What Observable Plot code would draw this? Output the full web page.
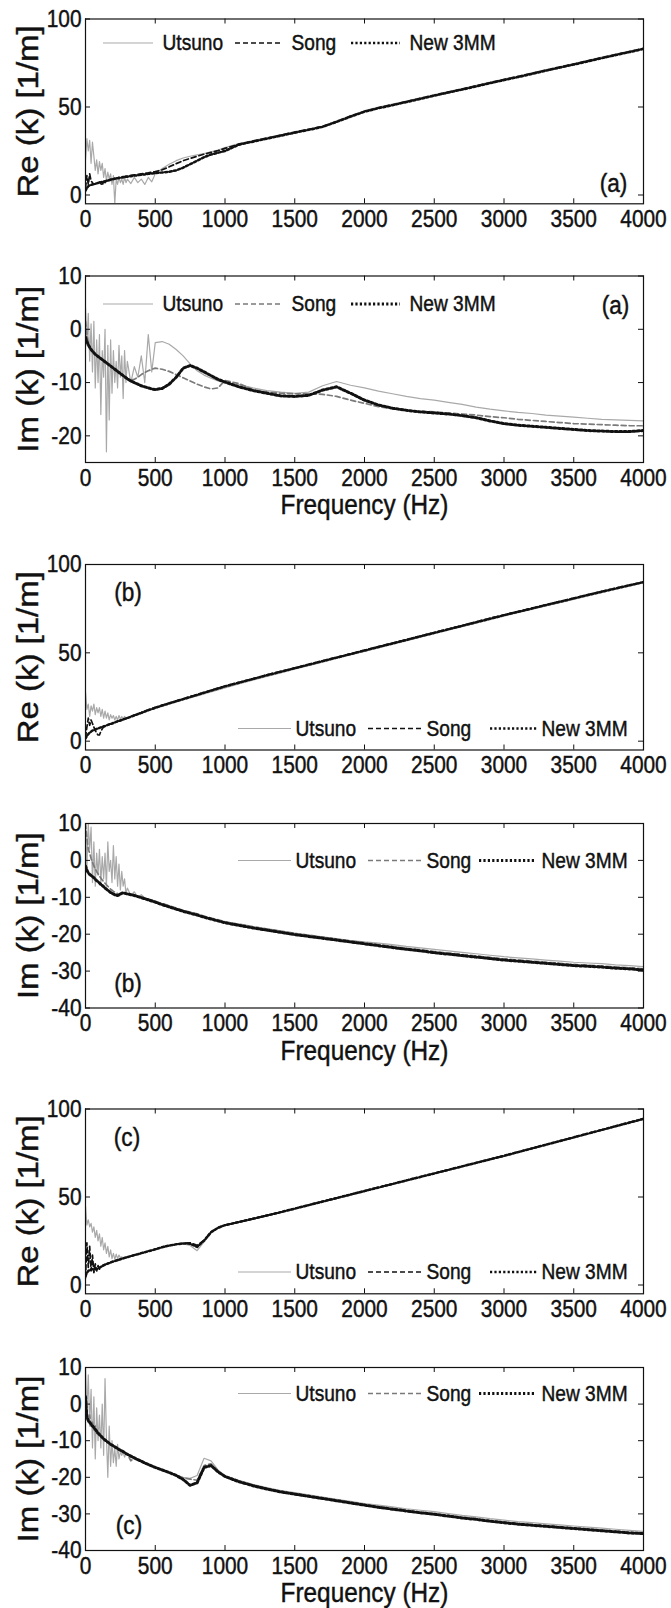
<!DOCTYPE html>
<html><head><meta charset="utf-8">
<script src="https://cdn.jsdelivr.net/npm/d3@7"></script>
<script src="https://cdn.jsdelivr.net/npm/@observablehq/plot@0.6"></script>
<style>
html,body{margin:0;padding:0;background:#fff}
#fig{width:671px;height:1608px;overflow:hidden}
#fig svg{display:block}
</style>
</head><body><div id="fig"></div>
<script>
// ---------- DATA ----------
const freq = [0,10,20,30,40,50,60,70,80,90,100,110,120,130,140,150,160,170,180,190,200,210,220,230,240,250,260,270,280,290,
  300,325,350,375,400,425,450,475,
  500,550,600,650,700,750,800,850,900,950,1000,
  1100,1200,1300,1400,1500,1600,1700,1800,1900,2000,2100,2200,2300,2400,2500,2600,2700,2800,2900,3000,3100,3200,3300,3400,3500,3600,3700,3800,3900,4000];
const xTicks = [0,500,1000,1500,2000,2500,3000,3500,4000];
const seriesNames = ["Utsuno","Song","New 3MM"];

// (a) Re
const reA_utsuno = [20,32,25,31,18,30,22,14,20,12,19,14,18,10,15,8,13,9,12,6,11,-5,9,6,10,7,9,6,10,7,
  9,6.5,10,7,9,6,10,7.5,
  12,15,17.5,19.5,21,22,22.8,23.6,24.5,25.5,27,
  29.2,30.9,32.6,34.2,36,37.5,39.2,42.1,45.2,47.9,49.9,51.6,53.4,55.2,57,58.8,60.5,62.3,64.1,65.9,67.6,69.4,71.2,73,74.7,76.5,78.3,80.1,81.8,83.5];
const reA_song = [4,11,6,12,8,7,6,6.5,7,6.8,7.4,6.5,5.5,7.8,7,8.4,8.2,8.6,9,9,9.3,9.5,9.6,9.8,10,10.1,10.2,10.4,10.5,10.7,
  10.8,11.1,11.4,11.7,12,12.3,12.6,13,
  13.3,14.3,16,17.8,19.5,20.8,22,23.2,24.2,25.2,26.5,
  28.9,30.6,32.3,34,35.7,37.3,39,41.8,44.8,47.6,49.6,51.3,53.1,54.9,56.7,58.5,60.2,62,63.8,65.6,67.3,69.1,70.9,72.7,74.4,76.2,78,79.8,81.5,83.3];
const reA_new3mm = [2.5,4,5,5.5,5.8,6,6.2,6.4,6.6,6.8,7,7.2,7.4,7.6,7.8,8,8.2,8.4,8.6,8.8,9,9.2,9.3,9.5,9.6,9.8,9.9,10,10.2,10.3,
  10.4,10.7,11,11.2,11.5,11.7,12,12.2,
  12.4,12.8,13.2,14,15.5,17.5,19.5,21.5,23,24,25,
  28.6,30.3,32,33.7,35.4,37,38.7,41.5,44.5,47.3,49.3,51,52.8,54.6,56.4,58.2,59.9,61.7,63.5,65.3,67,68.8,70.6,72.4,74.1,75.9,77.7,79.5,81.2,83];

// (a) Im
const imA_utsuno = [4,-3,3,-6,1,-8,1.5,-11,-2,-10,-1,-16,-4,-9,0,-23,-3,-17,-2,-12,-4,-10,-6,-11,-3,-9,-5,-13,-4,-10,
  -6,-10,-7,-9,-5,-10,-1,-8,
  -2.5,-2.3,-2.8,-3.8,-5,-6.5,-7.8,-8.6,-9.2,-9.7,-10,
  -10.4,-11,-11.5,-11.8,-12,-11.8,-10.6,-9.8,-10.5,-11,-11.6,-12.1,-12.6,-13,-13.3,-13.7,-14.1,-14.6,-15,-15.3,-15.6,-15.8,-16.1,-16.3,-16.5,-16.7,-16.9,-17,-17.1,-17.2];
const imA_song = [1.5,-1,-2.4,-3.2,-3.7,-4.1,-4.4,-4.7,-4.9,-5.1,-5.3,-5.5,-5.7,-5.9,-6.1,-6.3,-6.5,-6.7,-6.9,-7.1,-7.3,-7.5,-7.7,-7.9,-8.1,-8.3,-8.5,-8.7,-8.9,-9.1,
  -9.3,-9.5,-9.4,-9,-8.5,-8.1,-7.8,-7.5,
  -7.3,-7.5,-7.9,-8.5,-9.1,-9.7,-10.3,-10.8,-11.2,-11,-9.6,
  -10.2,-11.3,-11.8,-12,-12.1,-12.1,-12.2,-12.6,-13.3,-13.9,-14.5,-14.9,-15.2,-15.4,-15.5,-15.7,-15.9,-16.1,-16.4,-16.6,-16.9,-17.1,-17.3,-17.5,-17.7,-17.8,-17.9,-18,-18.1,-18.1];
const imA_new3mm = [-1.5,-2.3,-2.9,-3.4,-3.8,-4.1,-4.4,-4.7,-4.9,-5.1,-5.3,-5.5,-5.7,-5.9,-6.1,-6.3,-6.5,-6.7,-6.9,-7.1,-7.3,-7.5,-7.7,-7.9,-8.1,-8.3,-8.5,-8.7,-8.9,-9.1,
  -9.3,-9.7,-10,-10.3,-10.6,-10.8,-11,-11.2,
  -11.3,-11.1,-10.3,-9,-7.3,-6.8,-7.3,-8,-8.7,-9.4,-9.9,
  -10.8,-11.5,-12,-12.5,-12.6,-12.4,-11.4,-10.8,-12,-13.3,-14.2,-14.8,-15.2,-15.5,-15.7,-15.9,-16.2,-16.6,-17.2,-17.7,-18,-18.2,-18.4,-18.6,-18.8,-19,-19.1,-19.2,-19.2,-19];

// (b) Re
const reB_utsuno = [28,18,21,14,20,17,21,15,19,16,19,14,18,13,17,13,16,12,15,13,14.5,12,14,12,14.5,12.5,14,12.5,14,13,
  13.5,14,14.3,15,15.7,16.4,17.1,17.8,
  18.5,19.7,20.9,22.1,23.3,24.5,25.6,26.8,27.9,29,30.2,
  32.4,34.5,36.6,38.7,40.7,42.7,44.7,46.8,48.8,50.8,52.8,54.8,56.8,58.8,60.8,62.8,64.8,66.8,68.8,70.8,72.7,74.6,76.5,78.4,80.3,82.2,84.1,86,87.8,89.7];
const reB_song = [2,8,13,9,12,10,8,6,4.5,3.5,3.5,5.5,7,8,8.5,8.9,9.2,9.5,9.8,10,10.3,10.6,10.9,11.2,11.4,11.7,12,12.3,12.6,12.8,
  13.2,14,14.8,15.5,16.2,17,17.7,18.4,
  19.1,20.4,21.6,22.8,24,25.2,26.4,27.6,28.8,30,31.2,
  33.3,35.4,37.5,39.5,41.5,43.5,45.5,47.5,49.5,51.5,53.5,55.5,57.5,59.5,61.5,63.5,65.5,67.5,69.5,71.5,73.4,75.3,77.2,79.1,81,82.9,84.8,86.6,88.4,90.2];
const reB_new3mm = [1.5,3,4,4.8,5.4,6,6.3,6.6,6.9,7.2,7.5,7.8,8.1,8.4,8.6,8.9,9.2,9.5,9.8,10,10.3,10.6,10.9,11.2,11.4,11.7,12,12.3,12.6,12.8,
  13,13.8,14.6,15.3,16,16.8,17.5,18.2,
  18.9,20.2,21.4,22.6,23.8,25,26.2,27.4,28.6,29.8,31,
  33.1,35.2,37.3,39.3,41.3,43.3,45.3,47.3,49.3,51.3,53.3,55.3,57.3,59.3,61.3,63.3,65.3,67.3,69.3,71.3,73.2,75.1,77,78.9,80.8,82.7,84.6,86.4,88.2,90];

// (b) Im
const imB_utsuno = [10,-2,10,3,9,-6,5,-7,2,-4,3,-6,1,-5,2,-7,5,-3,0,-6,4,-5,1,-7,-1,-8,-3,-7,-5,-9,
  -7.5,-9.5,-8.5,-10,-9.3,-10.2,-10.4,-10.7,
  -11,-11.7,-12.3,-13,-13.6,-14.2,-14.8,-15.3,-15.8,-16.3,-16.8,
  -17.2,-17.9,-18.5,-19.1,-19.7,-20.2,-20.7,-21.2,-21.7,-22.1,-22.4,-22.8,-23.3,-23.7,-24.1,-24.5,-24.9,-25.3,-25.7,-26.1,-26.4,-26.7,-27,-27.3,-27.6,-27.8,-28,-28.3,-28.5,-28.8];
const imB_song = [10,6,3,2,0.5,-0.5,-1.5,-2.3,-3,-3.6,-4.2,-4.8,-5.3,-5.8,-6.2,-6.6,-7,-7.4,-7.8,-8.1,-8.4,-8.6,-8.8,-9,-9.1,-9.1,-9,-8.9,-8.9,-9,
  -9,-9.1,-9.3,-9.6,-9.9,-10.2,-10.5,-10.8,
  -11.1,-11.7,-12.3,-12.9,-13.5,-14,-14.5,-15.1,-15.6,-16.1,-16.6,
  -17.3,-18,-18.6,-19.2,-19.8,-20.3,-20.8,-21.3,-21.8,-22.3,-22.8,-23.3,-23.8,-24.2,-24.7,-25.1,-25.5,-25.9,-26.3,-26.7,-27,-27.3,-27.6,-27.9,-28.2,-28.4,-28.6,-28.9,-29.1,-29.4];
const imB_new3mm = [-1.5,-2.6,-3.4,-3.8,-4.1,-4.4,-4.7,-5.1,-5.5,-5.8,-6.1,-6.5,-6.8,-7.1,-7.5,-7.8,-8.1,-8.4,-8.7,-8.9,-9.1,-9.3,-9.4,-9.5,-9.4,-9.1,-8.9,-8.8,-8.9,-9,
  -9.1,-9.3,-9.5,-9.8,-10.1,-10.4,-10.7,-11,
  -11.3,-12,-12.6,-13.2,-13.8,-14.3,-14.8,-15.4,-15.9,-16.4,-16.9,
  -17.6,-18.3,-18.9,-19.5,-20.1,-20.6,-21.1,-21.6,-22.1,-22.6,-23.1,-23.6,-24.1,-24.5,-25,-25.4,-25.8,-26.2,-26.6,-27,-27.3,-27.6,-27.9,-28.2,-28.5,-28.7,-28.9,-29.2,-29.4,-29.7];

// (c) Re
const reC_utsuno = [45,34,37,33,35,30,33,27,31,25,29,22,27,20,24,18,22,16,20,15,18,14.5,17.5,15,17,15.5,16,15.3,15.8,15.6,
  15.8,16.4,17,17.5,18.1,18.6,19.2,19.7,
  20.2,21.3,22.3,23,23.4,22.5,19.5,24.5,29.5,32.3,33.8,
  35.5,37.3,39.2,41.1,43.1,45.1,47.1,49.1,51.1,53.1,55.1,57.1,59.1,61.1,63.1,65.1,67.1,69.1,71.1,73.1,75.2,77.3,79.4,81.5,83.6,85.7,87.8,89.9,92,94.1];
const reC_song = [4,24,10,22,8,17,7,12,8,11,9,10.5,10.5,11.5,11.6,11.9,12.2,12.5,12.8,13.1,13.4,13.6,13.9,14.1,14.4,14.6,14.9,15.1,15.4,15.6,
  15.8,16.4,17,17.5,18.1,18.6,19.2,19.7,
  20.3,21.5,22.4,23.1,23.7,24,22.5,25.4,30.2,32.6,34.1,
  35.9,37.7,39.6,41.5,43.5,45.5,47.5,49.5,51.5,53.5,55.5,57.5,59.5,61.5,63.5,65.5,67.5,69.5,71.5,73.5,75.6,77.7,79.8,81.9,84,86.1,88.2,90.3,92.4,94.5];
const reC_new3mm = [5,7,8,8.5,8.8,9,9,9,9.1,9.4,9.8,10.3,10.8,11.2,11.6,11.9,12.2,12.5,12.8,13.1,13.4,13.6,13.9,14.1,14.4,14.6,14.9,15.1,15.4,15.6,
  15.8,16.4,17,17.5,18.1,18.6,19.2,19.7,
  20.3,21.5,22.4,23.1,23.6,23.5,21.6,25.2,30,32.5,34,
  35.8,37.6,39.5,41.4,43.4,45.4,47.4,49.4,51.4,53.4,55.4,57.4,59.4,61.4,63.4,65.4,67.4,69.4,71.4,73.4,75.5,77.6,79.7,81.8,83.9,86,88.1,90.2,92.3,94.4];

// (c) Im
const imC_utsuno = [10,-2,8,-6,4,-12,2,-15,-1,-10,-3,-12,0,-14,7,-9,-20,-6,-17,-10,-16,-12,-17,-11,-15,-13,-14,-13,-14.5,-13.5,
  -14,-14.5,-14.8,-15.2,-15.6,-16,-16.4,-16.8,
  -17.2,-17.9,-18.6,-19.3,-20,-20.3,-19.5,-14.8,-15.5,-18,-19.5,
  -20.8,-21.9,-22.8,-23.6,-24.2,-24.8,-25.4,-26,-26.6,-27.2,-27.6,-28.1,-28.6,-29,-29.4,-29.9,-30.4,-30.8,-31.3,-31.7,-32.1,-32.4,-32.7,-33,-33.3,-33.6,-33.9,-34.2,-34.5,-34.8];
const imC_song = [0,-2,-5,-3,-6,-5,-7,-6,-8,-7.5,-8.5,-8.6,-9.1,-9.5,-9.8,-10.1,-10.4,-10.7,-11,-11.2,-11.4,-11.7,-11.9,-12.1,-12.4,-12.6,-12.8,-13,-13.2,-13.5,
  -13.7,-15.5,-14.7,-15.2,-15.6,-16.1,-16.5,-16.9,
  -17.3,-18,-18.7,-19.4,-20.2,-20.5,-20.8,-16.8,-16.3,-18.3,-19.7,
  -21,-22.1,-23,-23.8,-24.4,-25,-25.6,-26.2,-26.8,-27.4,-28,-28.5,-29,-29.5,-29.9,-30.4,-30.9,-31.3,-31.8,-32.2,-32.6,-32.9,-33.2,-33.5,-33.8,-34.1,-34.4,-34.7,-35,-35.2];
const imC_new3mm = [2,-3.5,-4.5,-5,-5.5,-6,-6.4,-6.9,-7.4,-7.9,-8.3,-8.7,-9.1,-9.5,-9.8,-10.1,-10.4,-10.7,-11,-11.2,-11.4,-11.7,-11.9,-12.1,-12.4,-12.6,-12.8,-13,-13.2,-13.5,
  -13.7,-14.2,-14.7,-15.2,-15.6,-16.1,-16.5,-16.9,
  -17.3,-18,-18.7,-19.5,-20.6,-22.2,-21.5,-17.3,-16.8,-18.5,-19.8,
  -21.2,-22.3,-23.2,-24,-24.6,-25.2,-25.8,-26.4,-27,-27.6,-28.2,-28.7,-29.2,-29.7,-30.1,-30.6,-31.1,-31.5,-32,-32.4,-32.8,-33.1,-33.4,-33.7,-34,-34.3,-34.6,-34.9,-35.2,-35.4];

const reTicks = [0,50,100];
const imTicksA = [-20,-10,0,10];
const imTicksBC = [-40,-30,-20,-10,0,10];

// ---------- LAYOUT ----------
const FONT = "'Liberation Sans', Arial, Helvetica, sans-serif";
const SX = 0.87; // horizontal squeeze of glyphs, as in the scanned figure
const legA = {lines: [[18,68],[150,197],[266,315]], texts: [77,206,324]};
const legB = {lines: [[153,206],[283,337],[405,452]], texts: [210,341,456]};
const legB2 = {lines: [[153,206],[283,337],[394,450]], texts: [210,341,456]};

const panels = [
  {svg:[0,240], frame:[18.5,203.3], kind:"re", yDomain:[-5,100], yTicks:reTicks, ylabel:"Re (k) [1/m]",
   s:[reA_utsuno, reA_song, reA_new3mm], tag:"(a)", tagXY:[528,164.5], leg:legA, legY:24, freqLabel:false},
  {svg:[240,530], frame:[275.5,462], kind:"im", yDomain:[-25,10], yTicks:imTicksA, ylabel:"Im (k) [1/m]",
   s:[imA_utsuno, imA_song, imA_new3mm], tag:"(a)", tagXY:[530,29.5], leg:legA, legY:28, freqLabel:true},
  {svg:[530,790], frame:[564,749.5], kind:"re", yDomain:[-5,100], yTicks:reTicks, ylabel:"Re (k) [1/m]",
   s:[reB_utsuno, reB_song, reB_new3mm], tag:"(b)", tagXY:[42.5,27.7], leg:legB, legY:164, freqLabel:false},
  {svg:[790,1075], frame:[823,1007.5], kind:"im", yDomain:[-40,10], yTicks:imTicksBC, ylabel:"Im (k) [1/m]",
   s:[imB_utsuno, imB_song, imB_new3mm], tag:"(b)", tagXY:[42.5,160], leg:legB2, legY:37, freqLabel:true},
  {svg:[1075,1335], frame:[1108.5,1293.3], kind:"re", yDomain:[-5,100], yTicks:reTicks, ylabel:"Re (k) [1/m]",
   s:[reC_utsuno, reC_song, reC_new3mm], tag:"(c)", tagXY:[41.5,28.2], leg:legB, legY:163, freqLabel:false},
  {svg:[1335,1608], frame:[1367,1550], kind:"im", yDomain:[-40,10], yTicks:imTicksBC, ylabel:"Im (k) [1/m]",
   s:[imC_utsuno, imC_song, imC_new3mm], tag:"(c)", tagXY:[43.5,158], leg:legB2, legY:26, freqLabel:true}
];

const ML = 85, MR = 28, W = 671;
const plotW = W - ML - MR;

function squeezeText(svg, sx) {
  svg.querySelectorAll("text").forEach(t => {
    const tr = t.getAttribute("transform");
    if (tr && /^\s*translate\([^)]*\)/.test(tr)) {
      t.setAttribute("transform", tr.replace(/^\s*(translate\([^)]*\))/, `$1 scale(${sx},1)`));
    } else {
      const x = +(t.getAttribute("x") || 0);
      t.setAttribute("x", x / sx);
      t.setAttribute("transform", (tr ? tr + " " : "") + `scale(${sx},1)`);
    }
    t.style.stroke = "#111";
    t.style.strokeWidth = "0.45px";
  });
}

const fig = document.getElementById("fig");
for (const p of panels) {
  const H = p.svg[1] - p.svg[0];
  const mt = p.frame[0] - p.svg[0];
  const mb = p.svg[1] - p.frame[1];
  const plotH = p.frame[1] - p.frame[0];
  const [y0, y1] = p.yDomain;
  const pxToX = px => px / plotW * 4000;
  const pxToY = py => y1 - py / plotH * (y1 - y0);
  const isIm = p.kind === "im";
  const styles = [
    {stroke: "#a9a9a9", strokeWidth: 1.2},
    {stroke: isIm ? "#7a7a7a" : "#111", strokeWidth: 1.7, strokeDasharray: "5,3"},
    {stroke: "#111", strokeWidth: isIm ? 3 : 2.5, strokeDasharray: "2.2,2.2"}
  ];
  const marks = [];
  p.s.forEach((vals, k) => {
    marks.push(Plot.line(freq, {x: d => d, y: (d, i) => vals[i], ...styles[k], clip: true}));
  });
  const ly = pxToY(p.legY);
  seriesNames.forEach((name, k) => {
    const [a, b] = p.leg.lines[k];
    marks.push(Plot.ruleY([ly], {y: d => d, x1: () => pxToX(a), x2: () => pxToX(b), ...styles[k]}));
    marks.push(Plot.text([name], {text: d => d, frameAnchor: "top-left", dx: p.leg.texts[k], dy: p.legY,
      textAnchor: "start", lineAnchor: "middle", fontSize: 22, fill: "#111"}));
  });
  marks.push(Plot.text([p.tag], {text: d => d, frameAnchor: "top-left", dx: p.tagXY[0], dy: p.tagXY[1],
    textAnchor: "middle", lineAnchor: "middle", fontSize: 26, fill: "#111"}));
  marks.push(Plot.text([p.ylabel], {text: d => d, frameAnchor: "left", dx: -57, rotate: -90,
    textAnchor: "middle", lineAnchor: "middle", fontSize: 33, fill: "#111"}));
  if (p.freqLabel) {
    marks.push(Plot.text(["Frequency (Hz)"], {text: d => d, frameAnchor: "bottom", dy: 43,
      textAnchor: "middle", lineAnchor: "middle", fontSize: 28, fill: "#111"}));
  }
  marks.push(Plot.tickX(xTicks, {x: d => d, insetTop: plotH - 5, stroke: "#111"}));
  marks.push(Plot.tickX(xTicks, {x: d => d, insetBottom: plotH - 5, stroke: "#111"}));
  marks.push(Plot.tickY(p.yTicks, {y: d => d, insetRight: plotW - 5, stroke: "#111"}));
  marks.push(Plot.tickY(p.yTicks, {y: d => d, insetLeft: plotW - 5, stroke: "#111"}));
  marks.push(Plot.frame({stroke: "#111", strokeWidth: 1.2}));

  const svg = Plot.plot({
    width: W, height: H,
    marginLeft: ML, marginRight: MR, marginTop: mt, marginBottom: mb,
    style: {fontFamily: FONT, fontSize: "24px", color: "#111", background: "#fff"},
    x: {domain: [0, 4000], ticks: xTicks, tickSize: 0, tickPadding: 6, tickFormat: d => String(d), label: null},
    y: {domain: p.yDomain, ticks: p.yTicks, tickSize: 0, tickPadding: 4, tickFormat: d => String(d), label: null},
    marks
  });
  squeezeText(svg, SX);
  fig.appendChild(svg);
}
</script>
</body></html>
